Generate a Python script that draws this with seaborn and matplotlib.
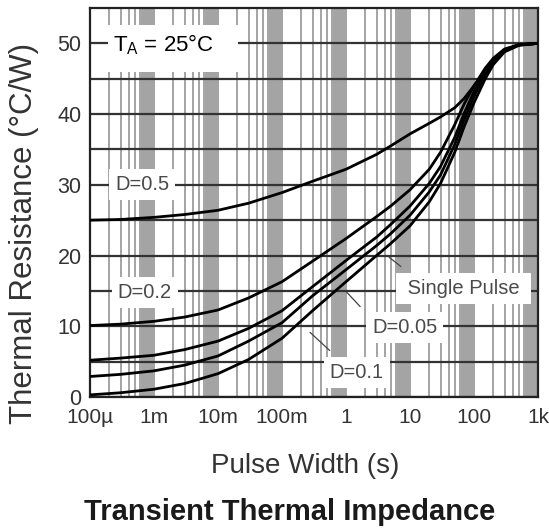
import numpy as np
import pandas as pd
import matplotlib
matplotlib.use("Agg")
import matplotlib.pyplot as plt
from matplotlib.ticker import LogLocator, NullFormatter, FixedLocator
from matplotlib.patches import Rectangle
import seaborn as sns

# ---- data ----
pulse_width = [1e-4, 3e-4, 1e-3, 3e-3, 1e-2, 3e-2, 0.1, 0.3, 1, 3, 5, 10,
               20, 30, 50, 70, 100, 150, 200, 300, 500, 1000]
d_05   = [25.0, 25.1, 25.4, 25.8, 26.4, 27.4, 28.9, 30.5, 32.2, 34.3, 35.5, 37.2,
          38.7, 39.6, 40.9, 42.2, 44.0, 46.0, 47.4, 49.0, 49.8, 50.0]
d_02   = [10.1, 10.3, 10.7, 11.3, 12.3, 14.0, 16.3, 19.2, 22.4, 25.5, 27.0, 29.3,
          32.2, 34.6, 38.5, 41.4, 44.0, 46.5, 47.9, 49.2, 49.8, 50.0]
d_01   = [5.2, 5.5, 5.9, 6.7, 7.9, 9.7, 12.2, 15.6, 19.3, 22.6, 24.4, 27.0,
          30.2, 32.6, 36.7, 40.1, 43.2, 46.1, 47.7, 49.1, 49.8, 50.0]
d_005  = [2.9, 3.2, 3.7, 4.5, 5.8, 7.9, 10.5, 14.3, 18.0, 21.4, 23.1, 25.7,
          29.0, 31.4, 35.7, 39.2, 42.5, 45.6, 47.4, 49.0, 49.8, 50.0]
single = [0.3, 0.6, 1.1, 1.9, 3.3, 5.3, 8.3, 12.2, 16.3, 20.0, 21.7, 24.2,
          27.6, 30.2, 34.6, 38.2, 41.6, 45.0, 47.0, 48.8, 49.7, 50.0]

series_names = ["D=0.5", "D=0.2", "D=0.1", "D=0.05", "Single Pulse"]
series_vals = [d_05, d_02, d_01, d_005, single]

x_ticks = [1e-4, 1e-3, 1e-2, 1e-1, 1, 10, 100, 1000]
x_tick_labels = ["100µ", "1m", "10m", "100m", "1", "10", "100", "1k"]
y_ticks = [0, 10, 20, 30, 40, 50]

df = pd.concat(
    [pd.DataFrame({"t": pulse_width, "R": v, "curve": n}) for n, v in zip(series_names, series_vals)],
    ignore_index=True,
)

# ---- style ----
sns.set_theme(style="white")
plt.rcParams["font.family"] = ["Liberation Sans", "DejaVu Sans"]
plt.rcParams["mathtext.fontset"] = "custom"
plt.rcParams["mathtext.rm"] = "Liberation Sans"

fig = plt.figure(figsize=(5.49, 5.31), dpi=100)
W, H = 549, 531
ax = fig.add_axes([90 / W, 1 - 397 / H, 448 / W, 389 / H])

sns.lineplot(data=df, x="t", y="R", hue="curve", palette=["black"] * 5,
             linewidth=2.0, legend=False, ax=ax, sort=True, zorder=3)

ax.set_xscale("log")
ax.set_xlim(1e-4, 1e3)
ax.set_ylim(0, 55)

ax.xaxis.set_major_locator(FixedLocator(x_ticks))
ax.set_xticklabels(x_tick_labels)
minor_subs = [2, 3, 4, 5, 6] + list(np.arange(6.5, 10.0, 0.25))
ax.xaxis.set_minor_locator(LogLocator(base=10, subs=minor_subs, numticks=200))
ax.xaxis.set_minor_formatter(NullFormatter())
ax.set_yticks(y_ticks)
ax.yaxis.set_minor_locator(FixedLocator(np.arange(5, 55, 10)))

ax.set_axisbelow(True)
ax.grid(which="both", axis="x", color="#a4a4a4", linewidth=1.4)
ax.grid(which="both", axis="y", color="#333333", linewidth=1.6)

ax.tick_params(axis="both", which="both", length=0)
ax.tick_params(axis="x", pad=8, labelsize=15, labelcolor="#333333")
ax.tick_params(axis="y", pad=6, labelsize=15.5, labelcolor="#333333")
for s in ax.spines.values():
    s.set_color("#222222")
    s.set_linewidth(1.6)
ax.set_xlabel("")
ax.set_ylabel("")

# ---- annotation box T_A ----
ax.add_patch(Rectangle((0.040, 0.835), 0.290, 0.121, transform=ax.transAxes,
                       facecolor="white", edgecolor="none", zorder=1))
ax.text(0.052, 0.905, r"T$_{\mathregular{A}}$ = 25°C", transform=ax.transAxes,
        fontsize=16, color="black", ha="left", va="center", zorder=4)

# ---- curve labels ----
box = dict(boxstyle="square,pad=0.3", facecolor="white", edgecolor="none")
lab_kw = dict(fontsize=14.5, color="#4a4a4a", ha="center", va="center", zorder=4, bbox=box)
ax.text(6.5e-4, 30.1, "D=0.5", **lab_kw)
ax.text(7.2e-4, 14.8, "D=0.2", **lab_kw)
ax.text(69, 15.35, " Single Pulse ", **lab_kw)
ax.text(8.3, 9.86, "D=0.05", **lab_kw)
ax.text(1.48, 3.4, "D=0.1", **lab_kw)

lead = dict(arrowstyle="-", color="#444444", lw=0.9)
ax.annotate("", xy=(4.37, 20.0), xytext=(7.8, 18.2), arrowprops=lead, zorder=4)
ax.annotate("", xy=(0.96, 15.1), xytext=(1.78, 12.5), arrowprops=lead, zorder=4)
ax.annotate("", xy=(0.255, 9.4), xytext=(0.60, 6.3), arrowprops=lead, zorder=4)

# ---- axis titles ----
fig.text(24 / W, 1 - 233 / H, "Thermal Resistance (°C/W)", rotation=90,
         ha="center", va="center", fontsize=22.5, color="#333333")
fig.text(305 / W, 1 - 473 / H, "Pulse Width (s)", ha="center", va="baseline",
         fontsize=20, color="#333333")
fig.text(290 / W, 1 - 520 / H, "Transient Thermal Impedance", ha="center",
         va="baseline", fontsize=21, fontweight="bold", color="#1a1a1a")

fig.savefig("out.png", dpi=100)
